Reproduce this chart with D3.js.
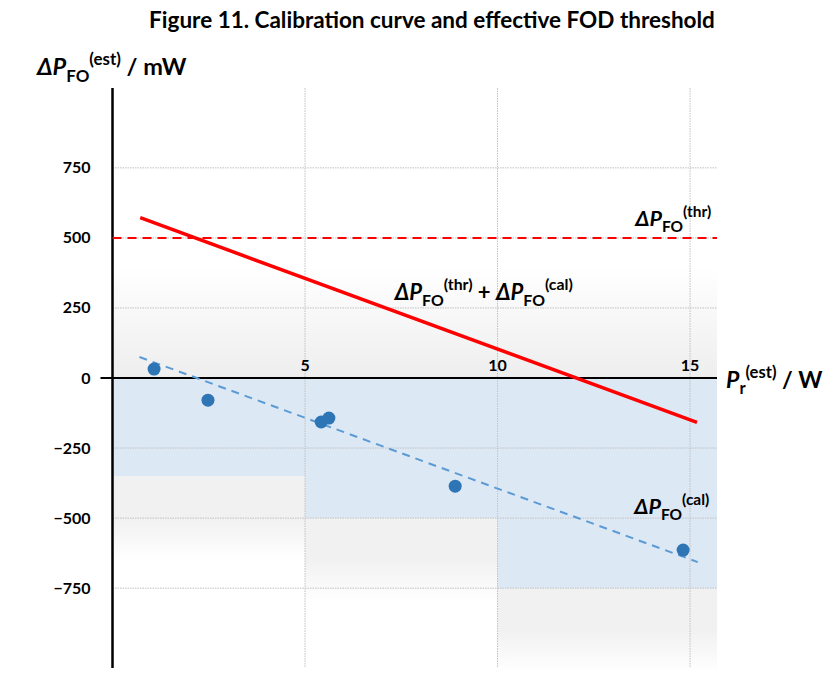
<!DOCTYPE html>
<html>
<head>
<meta charset="utf-8">
<script src="https://cdn.jsdelivr.net/npm/d3@7"></script>
<style>
  body { margin: 0; background: #fff; }
  text { font-family: Lato, "Open Sans", sans-serif; font-weight: bold; fill: #000; }
</style>
</head>
<body>
<div id="chart"></div>
<script>
const width = 835;
const height = 688;

// calibration measurements (Pr est in W, dP FO est in mW)
const calX = [1.08, 2.48, 5.42, 5.62, 8.9, 14.82];
const calY = [32, -79, -157, -143, -386, -614];

// fitted calibration line, end points
const fitX = [0.7, 15.2];
const fitY = [75, -657];

// threshold + calibration line, end points
const sumX = [0.72, 15.18];
const sumY = [572, -158];

const thrLevel = 500;

// shaded bins below zero
const binStart = [0, 5, 10];
const binEnd = [5, 10, 15.7];
const binFloor = [-350, -500, -750];

const xTicks = [5, 10, 15];
const yTicks = [-750, -500, -250, 0, 250, 500, 750];
const xMax = 15.7;
const yLim = 1035;

const svg = d3.select('#chart')
  .append('svg')
  .attr('width', width)
  .attr('height', height);

const x = d3.scaleLinear()
  .domain([0, xMax])
  .range([112.5, 717]);

const y = d3.scaleLinear()
  .domain([-yLim, yLim])
  .range([668, 88]);

const defs = svg.append('defs');

const gUp = defs.append('linearGradient')
  .attr('id', 'gUp').attr('x1', 0).attr('x2', 0).attr('y1', 0).attr('y2', 1);
gUp.append('stop').attr('offset', 0).attr('stop-color', '#ffffff');
gUp.append('stop').attr('offset', 1).attr('stop-color', '#eeeeee');

const gDown = defs.append('linearGradient')
  .attr('id', 'gDown').attr('x1', 0).attr('x2', 0).attr('y1', 0).attr('y2', 1);
gDown.append('stop').attr('offset', 0).attr('stop-color', '#f1f1f1');
gDown.append('stop').attr('offset', 0.5).attr('stop-color', '#f1f1f1');
gDown.append('stop').attr('offset', 1).attr('stop-color', '#ffffff');

// background shading
svg.append('rect')
  .attr('x', x(0))
  .attr('y', y(400))
  .attr('width', x(xMax) - x(0))
  .attr('height', y(0) - y(400))
  .attr('fill', 'url(#gUp)');

const bins = binStart.map((d, i) => ({ a: d, b: binEnd[i], f: binFloor[i] }));

svg.selectAll('.gray')
  .data(bins)
  .enter()
  .append('rect')
  .attr('class', 'gray')
  .attr('x', d => x(d.a))
  .attr('y', d => y(d.f))
  .attr('width', d => x(d.b) - x(d.a))
  .attr('height', d => y(d.f - 300) - y(d.f))
  .attr('fill', 'url(#gDown)');

svg.selectAll('.blue')
  .data(bins)
  .enter()
  .append('rect')
  .attr('class', 'blue')
  .attr('x', d => x(d.a))
  .attr('y', y(0))
  .attr('width', d => x(d.b) - x(d.a))
  .attr('height', d => y(d.f) - y(0))
  .attr('fill', '#dde8f5');

// grid
svg.selectAll('.hgrid')
  .data(yTicks.filter(d => d !== 0))
  .enter()
  .append('line')
  .attr('class', 'hgrid')
  .attr('x1', x(0)).attr('x2', x(xMax))
  .attr('y1', d => y(d)).attr('y2', d => y(d))
  .attr('stroke', '#c0c0c0')
  .attr('stroke-width', 1)
  .attr('stroke-dasharray', '1.5,1');

svg.selectAll('.vgrid')
  .data(xTicks)
  .enter()
  .append('line')
  .attr('class', 'vgrid')
  .attr('x1', d => x(d)).attr('x2', d => x(d))
  .attr('y1', y(yLim)).attr('y2', y(-yLim))
  .attr('stroke', '#c0c0c0')
  .attr('stroke-width', 1)
  .attr('stroke-dasharray', '1.5,1');

// axes
svg.append('line')
  .attr('x1', x(0)).attr('x2', x(0))
  .attr('y1', y(yLim)).attr('y2', y(-yLim))
  .attr('stroke', '#000')
  .attr('stroke-width', 2.5);

svg.append('line')
  .attr('x1', x(0) - 12).attr('x2', x(xMax))
  .attr('y1', y(0)).attr('y2', y(0))
  .attr('stroke', '#000')
  .attr('stroke-width', 2);

svg.selectAll('.ytick')
  .data(yTicks)
  .enter()
  .append('text')
  .attr('class', 'ytick')
  .attr('x', x(0) - 22)
  .attr('y', d => y(d) + 5.5)
  .attr('text-anchor', 'end')
  .attr('font-size', 16)
  .text(d => d3.format(',')(d).replace('-', '\u2013'));

svg.selectAll('.xtick')
  .data(xTicks)
  .enter()
  .append('text')
  .attr('class', 'xtick')
  .attr('x', d => x(d))
  .attr('y', y(0) - 7)
  .attr('text-anchor', 'middle')
  .attr('font-size', 16)
  .text(d => d);

// threshold line
svg.append('line')
  .attr('x1', x(0)).attr('x2', x(xMax))
  .attr('y1', y(thrLevel)).attr('y2', y(thrLevel))
  .attr('stroke', '#ff0000')
  .attr('stroke-width', 2)
  .attr('stroke-dasharray', '9,6');

// calibration fit
const line = d3.line().x(d => x(d[0])).y(d => y(d[1]));

svg.append('path')
  .datum(fitX.map((d, i) => [d, fitY[i]]))
  .attr('d', line)
  .attr('fill', 'none')
  .attr('stroke', '#5b9bd5')
  .attr('stroke-width', 2)
  .attr('stroke-dasharray', '8,6');

svg.append('path')
  .datum(sumX.map((d, i) => [d, sumY[i]]))
  .attr('d', line)
  .attr('fill', 'none')
  .attr('stroke', '#ff0000')
  .attr('stroke-width', 3.5);

svg.selectAll('.pt')
  .data(calX.map((d, i) => [d, calY[i]]))
  .enter()
  .append('circle')
  .attr('class', 'pt')
  .attr('cx', d => x(d[0]))
  .attr('cy', d => y(d[1]))
  .attr('r', 6.5)
  .attr('fill', '#2e75b6');

// text with sub / superscripts
function label(px, py, size, parts, anchor) {
  const t = svg.append('text')
    .attr('x', px).attr('y', py)
    .attr('font-size', size)
    .attr('text-anchor', anchor || 'start');
  let shift = 0;
  parts.forEach(p => {
    const target = p.sub ? size * 0.28 : p.sup ? -size * 0.42 : 0;
    const s = t.append('tspan')
      .attr('dy', target - shift)
      .text(p.t);
    if (p.sub || p.sup) s.attr('font-size', size * 0.72);
    if (p.it) s.attr('font-style', 'italic');
    shift = target;
  });
  return t;
}

label(37, 75, 23.5, [
  { t: '\u0394P', it: true }, { t: 'FO', sub: true }, { t: '(est)', sup: true }, { t: ' / mW' }
]);

label(726, 388, 23, [
  { t: 'P', it: true }, { t: 'r', sub: true }, { t: '(est)', sup: true }, { t: ' / W' }
]);

label(x(15.55), y(thrLevel) - 12, 21.5, [
  { t: '\u0394P', it: true }, { t: 'FO', sub: true }, { t: '(thr)', sup: true }
], 'end');

label(x(7.33), y(280), 22, [
  { t: '\u0394P', it: true }, { t: 'FO', sub: true }, { t: '(thr)', sup: true },
  { t: ' + ' }, { t: '\u0394P', it: true }, { t: 'FO', sub: true }, { t: '(cal)', sup: true }
]);

label(x(15.5), y(-487), 21.5, [
  { t: '\u0394P', it: true }, { t: 'FO', sub: true }, { t: '(cal)', sup: true }
], 'end');

svg.append('text')
  .attr('x', 432)
  .attr('y', 28)
  .attr('text-anchor', 'middle')
  .attr('font-size', 22.5)
  .text('Figure 11. Calibration curve and effective FOD threshold');
</script>
</body>
</html>
